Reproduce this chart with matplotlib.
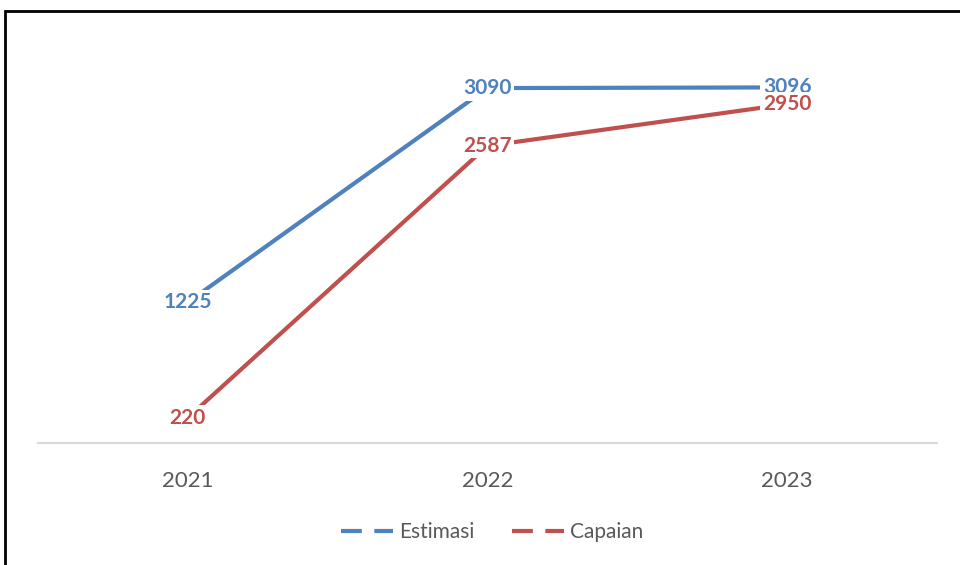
import matplotlib.pyplot as plt
from matplotlib.lines import Line2D
from matplotlib.patches import Rectangle

# data
years = ['2021', '2022', '2023']
estimasi = [1225, 3090, 3096]
capaian = [220, 2587, 2950]

blue = '#4F81BD'
red = '#C0504D'

fig = plt.figure(figsize=(9.6, 5.65), dpi=100)
ax = fig.add_axes([38/960, 1-443/565, 899/960, (443-41)/565])

x = list(range(len(years)))
ax.plot(x, estimasi, color=blue, lw=3, solid_capstyle='butt', zorder=2)
ax.plot(x, capaian, color=red, lw=3, solid_capstyle='butt', zorder=2)

# data labels centred on the points, white box hides the line end
for xi, v in zip(x, estimasi):
    ax.text(xi, v, str(v), color=blue, ha='center', va='center', fontsize=15,
            fontweight='bold', family='Lato', zorder=3,
            bbox=dict(boxstyle='square,pad=0.12', fc='white', ec='none'))
for xi, v in zip(x, capaian):
    ax.text(xi, v, str(v), color=red, ha='center', va='center', fontsize=15,
            fontweight='bold', family='Lato', zorder=3,
            bbox=dict(boxstyle='square,pad=0.12', fc='white', ec='none'))

ax.set_xlim(-0.5, 2.5)
ax.set_ylim(0, 3500)
ax.set_yticks([])
ax.set_xticks(x)
ax.set_xticklabels(years, fontsize=16, color='#595959', family='Lato')
ax.tick_params(axis='x', length=0, pad=20)
for s in ['left', 'right', 'top']:
    ax.spines[s].set_visible(False)
ax.spines['bottom'].set_color('#D9D9D9')
ax.spines['bottom'].set_linewidth(1.5)

handles = [Line2D([0], [0], color=blue, lw=3, linestyle=(0, (5, 3))),
           Line2D([0], [0], color=red, lw=3, linestyle=(0, (5, 3)))]
fig.legend(handles, ['Estimasi', 'Capaian'], loc='center', bbox_to_anchor=(492/960, 1-532/565),
           ncol=2, frameon=False, handlelength=2.5, handletextpad=0.3, columnspacing=1.8,
           prop=dict(family='Lato', size=15), labelcolor='#595959')

# outer border
fig.patches.append(Rectangle((5/960, -0.1), 1.2, 1 - 11/565 + 0.1, transform=fig.transFigure,
                             fill=False, ec='black', lw=2))

fig.savefig('out.png', dpi=100)
